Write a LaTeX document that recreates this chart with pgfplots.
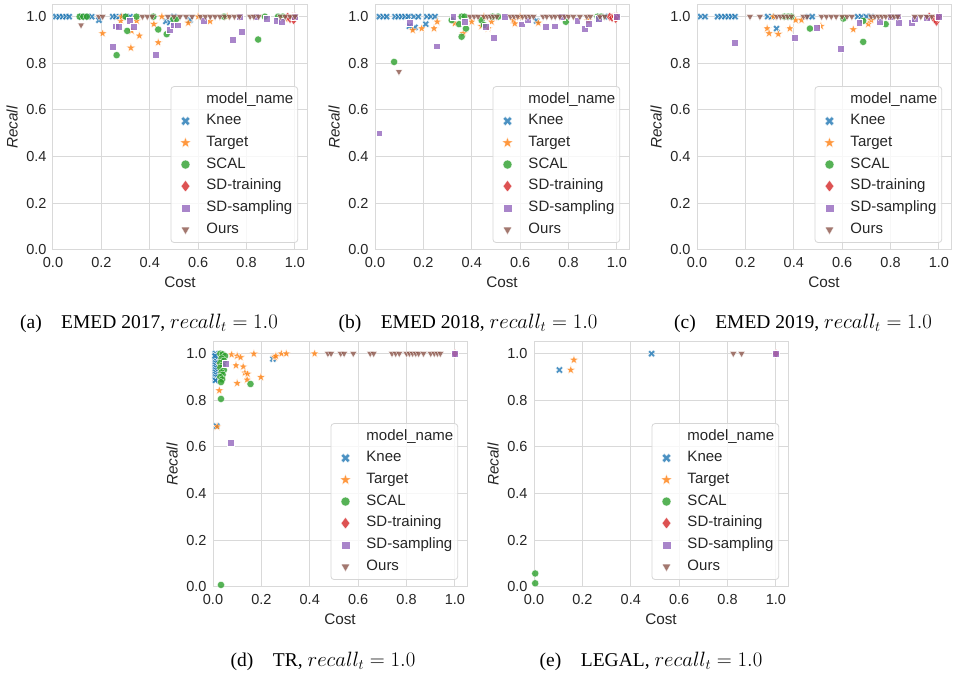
\documentclass[border=0pt]{standalone}
\usepackage{pgfplots}
\pgfplotsset{compat=1.18}
\usepackage{fontspec}
\setsansfont{Liberation Sans}
\newfontfamily\capfont{Liberation Serif}
\definecolor{c1}{HTML}{1F77B4}
\definecolor{c2}{HTML}{FF7F0E}
\definecolor{c3}{HTML}{2CA02C}
\definecolor{c4}{HTML}{D62728}
\definecolor{c5}{HTML}{9467BD}
\definecolor{c6}{HTML}{8C564B}
\definecolor{gridc}{HTML}{D9D9D9}
\definecolor{legc}{HTML}{D6D6D6}
\definecolor{tickc}{HTML}{262626}
\pgfdeclareplotmark{fX}{%
  \pgftransformrotate{45}%
  \pgfpathmoveto{\pgfqpoint{0.33\pgfplotmarksize}{0.33\pgfplotmarksize}}%
  \pgfpathlineto{\pgfqpoint{0.33\pgfplotmarksize}{\pgfplotmarksize}}%
  \pgfpathlineto{\pgfqpoint{-0.33\pgfplotmarksize}{\pgfplotmarksize}}%
  \pgfpathlineto{\pgfqpoint{-0.33\pgfplotmarksize}{0.33\pgfplotmarksize}}%
  \pgfpathlineto{\pgfqpoint{-\pgfplotmarksize}{0.33\pgfplotmarksize}}%
  \pgfpathlineto{\pgfqpoint{-\pgfplotmarksize}{-0.33\pgfplotmarksize}}%
  \pgfpathlineto{\pgfqpoint{-0.33\pgfplotmarksize}{-0.33\pgfplotmarksize}}%
  \pgfpathlineto{\pgfqpoint{-0.33\pgfplotmarksize}{-\pgfplotmarksize}}%
  \pgfpathlineto{\pgfqpoint{0.33\pgfplotmarksize}{-\pgfplotmarksize}}%
  \pgfpathlineto{\pgfqpoint{0.33\pgfplotmarksize}{-0.33\pgfplotmarksize}}%
  \pgfpathlineto{\pgfqpoint{\pgfplotmarksize}{-0.33\pgfplotmarksize}}%
  \pgfpathlineto{\pgfqpoint{\pgfplotmarksize}{0.33\pgfplotmarksize}}%
  \pgfpathclose\pgfusepathqfillstroke}
\pgfdeclareplotmark{fstar}{%
  \pgfpathmoveto{\pgfqpoint{0pt}{\pgfplotmarksize}}%
  \pgfpathlineto{\pgfqpoint{-0.2351\pgfplotmarksize}{0.3236\pgfplotmarksize}}%
  \pgfpathlineto{\pgfqpoint{-0.9511\pgfplotmarksize}{0.3090\pgfplotmarksize}}%
  \pgfpathlineto{\pgfqpoint{-0.3804\pgfplotmarksize}{-0.1236\pgfplotmarksize}}%
  \pgfpathlineto{\pgfqpoint{-0.5878\pgfplotmarksize}{-0.8090\pgfplotmarksize}}%
  \pgfpathlineto{\pgfqpoint{0pt}{-0.4\pgfplotmarksize}}%
  \pgfpathlineto{\pgfqpoint{0.5878\pgfplotmarksize}{-0.8090\pgfplotmarksize}}%
  \pgfpathlineto{\pgfqpoint{0.3804\pgfplotmarksize}{-0.1236\pgfplotmarksize}}%
  \pgfpathlineto{\pgfqpoint{0.9511\pgfplotmarksize}{0.3090\pgfplotmarksize}}%
  \pgfpathlineto{\pgfqpoint{0.2351\pgfplotmarksize}{0.3236\pgfplotmarksize}}%
  \pgfpathclose\pgfusepathqfillstroke}
\pgfplotsset{
  knee/.style={only marks, mark=fX, mark size=3.8pt, mark options={fill=c1, draw=white, line width=0.3pt}},
  target/.style={only marks, mark=fstar, mark size=4.6pt, mark options={fill=c2, draw=white, line width=0.3pt}},
  scal/.style={only marks, mark=*, mark size=3.6pt, mark options={fill=c3, draw=white, line width=0.3pt}},
  sdt/.style={only marks, mark=diamond*, mark size=4.6pt, mark options={fill=c4, draw=white, line width=0.3pt}},
  sds/.style={only marks, mark=square*, mark size=3.4pt, mark options={fill=c5, draw=white, line width=0.3pt}},
  ours/.style={only marks, mark=triangle*, mark size=3.9pt, mark options={fill=c6, draw=white, line width=0.3pt, rotate=180}},
  pt/.style={forget plot, every mark/.append style={fill opacity=0.8}},
  sns/.style={
    scale only axis, width=254pt, height=245pt,
    xmin=0, xmax=1.05, ymin=0, ymax=1.05,
    xtick={0,0.2,0.4,0.6,0.8,1.0}, ytick={0,0.2,0.4,0.6,0.8,1.0},
    grid=major, major grid style={draw=gridc, line width=1pt},
    axis line style={draw=gridc, line width=1pt},
    major tick length=0pt,
    /pgf/number format/assume math mode=true,
    /pgf/number format/.cd, fixed, fixed zerofill, precision=1, /pgfplots/.cd,
    tick label style={font=\sffamily\fontsize{14.5}{16}\selectfont, text=tickc},
    xticklabel style={yshift=-4pt},
    yticklabel style={xshift=-3pt},
    xlabel={Cost}, ylabel={\textit{Recall}},
    every axis x label/.style={at={(axis description cs:0.5,-0.13)}, anchor=center,
      font=\sffamily\fontsize{15.3}{17}\selectfont, text=tickc},
    every axis y label/.style={at={(axis description cs:-0.161,0.5)}, rotate=90, anchor=center,
      font=\sffamily\fontsize{15.3}{17}\selectfont, text=tickc},
    legend cell align=left,
    legend image code/.code={\path[draw=none,fill=none] (0pt,0pt) (31pt,0pt); \draw[#1, every mark/.append style={scale=1.25, line width=0.2pt}] plot coordinates {(11.5pt,0pt)};},
    legend style={at={(0.965,0.029)}, anchor=south east, draw=legc, line width=0.8pt,
      rounded corners=3pt, fill=white, fill opacity=0.8, text opacity=1, draw opacity=1,
      font=\sffamily\fontsize{15}{17}\selectfont, text=tickc,
      inner xsep=3pt, inner ysep=4.5pt, row sep=5pt,
      nodes={inner sep=1.5pt, text height=10.5pt, text depth=3.2pt}},
  }
}
\newcommand\snslegend{%
  \addlegendimage{empty legend}\addlegendentry{model\_name}
  \addlegendimage{knee}\addlegendentry{Knee}
  \addlegendimage{target}\addlegendentry{Target}
  \addlegendimage{scal}\addlegendentry{SCAL}
  \addlegendimage{sdt}\addlegendentry{SD-training}
  \addlegendimage{sds}\addlegendentry{SD-sampling}
  \addlegendimage{ours}\addlegendentry{Ours}
}
\newcommand\subcap[1]{{\capfont\fontsize{19.5}{22}\selectfont #1}}
\begin{document}
\begin{tikzpicture}
\path[use as bounding box] (0pt,0pt) rectangle (953pt,677pt);
% ---------------- (a) EMED 2017
\begin{axis}[sns, at={(53pt,427pt)}, anchor=south west]
\snslegend
\addplot[knee, pt] coordinates {(0.012,1)(0.026,1)(0.04,1)(0.054,1)(0.067,1)(0.118,1)(0.132,1)(0.146,1)(0.16,1)(0.19,0.985)(0.247,1)(0.26,1)(0.274,1)(0.288,1)(0.305,1)(0.318,1)(0.467,0.98)(0.483,0.975)(0.5,1)(0.566,0.985)};
\addplot[target, pt] coordinates {(0.205,0.928)(0.28,0.982)(0.325,0.939)(0.322,0.866)(0.346,0.982)(0.357,0.918)(0.417,0.968)(0.435,0.889)(0.559,0.973)(0.649,0.98)(0.284,1)(0.45,1)(0.6,1)(0.72,1)(0.96,0.99)};
\addplot[scal, pt] coordinates {(0.11,1)(0.125,1)(0.14,1)(0.30,1)(0.345,1)(0.415,1)(0.307,0.939)(0.435,0.945)(0.47,0.925)(0.263,0.835)(0.497,0.99)(0.51,0.99)(0.707,1)(0.848,0.902)(0.876,1)(0.93,1)(0.95,1)(1.0,1)};
\addplot[sdt, pt] coordinates {(0.97,1)(0.98,0.99)(0.99,1)(1.0,1)(0.995,0.985)};
\addplot[sds, pt] coordinates {(0.247,0.871)(0.26,0.959)(0.27,0.958)(0.318,0.982)(0.335,0.956)(0.423,0.838)(0.483,0.945)(0.497,0.964)(0.515,0.964)(0.624,0.982)(0.742,0.902)(0.78,0.935)(0.77,1)(0.84,1)(0.883,0.99)(0.924,0.982)(0.945,0.98)(1.0,1)};
\addplot[ours, pt] coordinates {(0.116,0.964)(0.19,1)(0.205,1)(0.37,1)(0.39,1)(0.41,1)(0.475,1)(0.50,1)(0.525,1)(0.55,1)(0.575,1)(0.61,1)(0.63,1)(0.65,1)(0.67,1)(0.69,1)(0.71,1)(0.73,1)(0.75,1)(0.77,1)(0.815,1)(0.83,1)(0.85,1)(0.94,1)(0.96,1)(0.98,1)(1.0,1)};
\end{axis}
% ---------------- (b) EMED 2018
\begin{axis}[sns, at={(375pt,427pt)}, anchor=south west]
\snslegend
\addplot[knee, pt] coordinates {(0.018,1)(0.034,1)(0.048,1)(0.083,1)(0.096,1)(0.11,1)(0.124,1)(0.138,1)(0.161,1)(0.179,1)(0.214,1)(0.23,1)(0.248,1)(0.142,0.959)(0.165,0.954)(0.21,0.968)(0.668,0.982)(0.923,0.99)(0.95,1)};
\addplot[target, pt] coordinates {(0.156,0.942)(0.193,0.949)(0.244,0.949)(0.257,0.978)(0.33,0.971)(0.365,0.928)(0.4,0.978)(0.44,0.959)(0.468,0.949)(0.482,0.978)(0.572,0.985)(0.578,0.97)(0.675,0.973)(0.881,0.982)(0.45,1)(0.6,1)};
\addplot[scal, pt] coordinates {(0.079,0.806)(0.317,0.985)(0.348,0.968)(0.358,0.914)(0.376,0.949)(0.358,1)(0.37,1)(0.44,0.985)(0.45,0.964)(0.486,1)(0.509,1)(0.789,0.978)(0.92,1)(0.935,1)(1,1)};
\addplot[sdt, pt] coordinates {(0.97,1)(0.98,0.995)(0.99,1)(1,1)(0.995,0.99)};
\addplot[sds, pt] coordinates {(0.017,0.501)(0.142,0.973)(0.255,0.874)(0.323,1)(0.372,0.978)(0.457,0.956)(0.492,0.911)(0.537,1)(0.606,0.968)(0.63,0.985)(0.707,0.956)(0.744,0.959)(0.77,1)(0.836,0.982)(0.868,0.949)(0.882,0.97)(0.923,0.99)(1,1)};
\addplot[ours, pt] coordinates {(0.099,0.764)(0.393,1)(0.41,1)(0.426,1)(0.45,1)(0.465,1)(0.478,1)(0.49,1)(0.504,1)(0.56,1)(0.575,1)(0.59,1)(0.61,1)(0.625,1)(0.64,1)(0.655,1)(0.695,1)(0.71,1)(0.73,1)(0.745,1)(0.764,1)(0.785,1)(0.8,1)(0.82,1)(0.847,1)(0.875,1)(0.89,1)(0.93,1)(0.95,1)};
\end{axis}
% ---------------- (c) EMED 2019
\begin{axis}[sns, at={(697pt,427pt)}, anchor=south west]
\snslegend
\addplot[knee, pt] coordinates {(0.015,1)(0.033,1)(0.085,1)(0.1,1)(0.115,1)(0.13,1)(0.143,1)(0.157,1)(0.292,1)(0.309,1)(0.46,1)(0.476,1)(0.664,1)(0.68,1)(0.7,1)(0.72,1)(0.329,0.949)};
\addplot[target, pt] coordinates {(0.29,0.949)(0.298,0.928)(0.336,0.925)(0.316,1)(0.384,0.949)(0.408,0.985)(0.432,0.985)(0.512,0.959)(0.646,0.945)(0.708,0.968)(0.72,0.985)};
\addplot[scal, pt] coordinates {(0.361,1)(0.377,1)(0.39,1)(0.467,0.949)(0.605,0.992)(0.687,0.982)(0.687,0.892)(0.78,0.968)(0.82,1)(1,1)};
\addplot[sdt, pt] coordinates {(0.96,1)(0.98,0.99)(0.99,0.978)(1,1)(0.995,0.995)};
\addplot[sds, pt] coordinates {(0.154,0.888)(0.402,0.911)(0.495,0.954)(0.593,0.864)(0.67,0.973)(0.756,0.978)(0.8,1)(0.83,1)(0.835,0.973)(0.887,0.973)(0.9,0.99)(0.95,0.995)(1,1)};
\addplot[ours, pt] coordinates {(0.219,1)(0.26,1)(0.33,1)(0.345,1)(0.36,1)(0.375,1)(0.39,1)(0.44,1)(0.455,1)(0.515,1)(0.535,1)(0.555,1)(0.575,1)(0.6,1)(0.62,1)(0.64,1)(0.72,1)(0.735,1)(0.75,1)(0.765,1)(0.78,1)(0.8,1)(0.815,1)(0.83,1)(0.9,1)(0.925,1)(0.95,1)(0.97,1)};
\end{axis}
% ---------------- (d) TR
\begin{axis}[sns, at={(213pt,90pt)}, anchor=south west]
\snslegend
\addplot[knee, pt] coordinates {(0.01,1)(0.01,0.99)(0.01,0.98)(0.01,0.97)(0.01,0.96)(0.01,0.95)(0.01,0.94)(0.01,0.93)(0.01,0.92)(0.01,0.91)(0.01,0.9)(0.01,0.89)(0.01,0.885)(0.015,0.689)(0.248,0.977)(0.008,0.99)};
\addplot[target, pt] coordinates {(0.017,0.687)(0.026,0.842)(0.03,0.95)(0.035,0.89)(0.077,0.996)(0.1,0.99)(0.114,0.984)(0.1,0.873)(0.095,0.949)(0.125,0.944)(0.132,0.918)(0.143,0.913)(0.141,0.888)(0.169,0.999)(0.198,0.899)(0.255,0.984)(0.26,0.99)(0.283,1)(0.303,1)(0.42,1)};
\addplot[scal, pt] coordinates {(0.03,1)(0.04,0.997)(0.05,0.99)(0.035,0.98)(0.045,0.97)(0.03,0.96)(0.04,0.95)(0.03,0.94)(0.045,0.93)(0.035,0.92)(0.04,0.91)(0.03,0.9)(0.038,0.89)(0.033,0.878)(0.155,0.87)(0.033,0.806)(0.033,0.009)};
\addplot[sdt, pt] coordinates {(1,1)};
\addplot[sds, pt] coordinates {(0.053,0.956)(0.073,0.617)(1,1)};
\addplot[ours, pt] coordinates {(0.475,1)(0.488,1)(0.528,1)(0.542,1)(0.58,1)(0.65,1)(0.664,1)(0.74,1)(0.755,1)(0.77,1)(0.8,1)(0.812,1)(0.825,1)(0.838,1)(0.85,1)(0.87,1)(0.9,1)(0.915,1)(0.928,1)(0.94,1)};
\end{axis}
% ---------------- (e) LEGAL
\begin{axis}[sns, at={(534pt,90pt)}, anchor=south west]
\snslegend
\addplot[knee, pt] coordinates {(0.105,0.93)(0.486,1)};
\addplot[target, pt] coordinates {(0.152,0.93)(0.165,0.973)};
\addplot[scal, pt] coordinates {(0.005,0.058)(0.005,0.016)};
\addplot[sdt, pt] coordinates {(1,1)};
\addplot[sds, pt] coordinates {(1,1)};
\addplot[ours, pt] coordinates {(0.824,1)(0.858,1)};
\end{axis}
% captions
\node at (149pt,354pt) {\subcap{(a)\quad EMED 2017, $recall_t = 1.0$}};
\node at (468pt,354pt) {\subcap{(b)\quad EMED 2018, $recall_t = 1.0$}};
\node at (803pt,354pt) {\subcap{(c)\quad EMED 2019, $recall_t = 1.0$}};
\node at (323pt,16pt) {\subcap{(d)\quad TR, $recall_t = 1.0$}};
\node at (651pt,16pt) {\subcap{(e)\quad LEGAL, $recall_t = 1.0$}};
\end{tikzpicture}
\end{document}
